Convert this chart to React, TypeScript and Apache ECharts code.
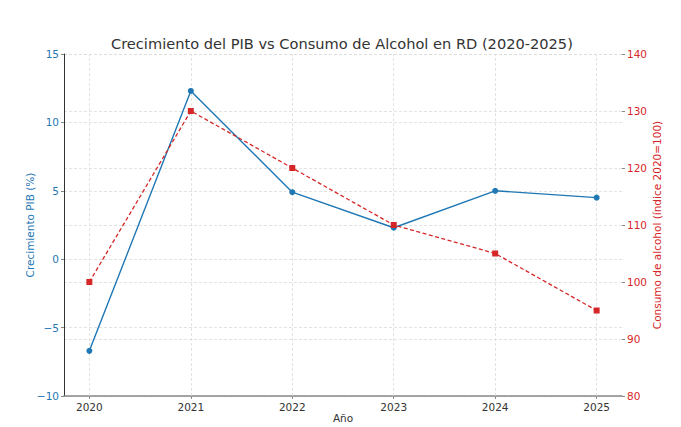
import React, { useEffect, useRef } from "react";
import * as echarts from "echarts";

const years = [2020, 2021, 2022, 2023, 2024, 2025];
const pibGrowth = [-6.7, 12.3, 4.9, 2.3, 5.0, 4.5];
const alcoholIndex = [100, 130, 120, 110, 105, 95];
const leftTicks = { min: -10, max: 15, interval: 5 };
const rightTicks = { min: 80, max: 140, interval: 10 };

const BLUE = "#1f77b4";
const RED = "#d62728";
const FONT = "DejaVu Sans";

export default function App() {
  const ref = useRef<HTMLDivElement>(null);
  useEffect(() => {
    document.body.style.margin = "0";
    const chart = echarts.init(ref.current!, null, { renderer: "svg" });
    const gridStyle = { color: "#dcdcdc", type: [3, 2], width: 0.8 };
    const gridLine = { show: true, lineStyle: gridStyle };
    chart.setOption({
      animation: false,
      backgroundColor: "#ffffff",
      title: {
        text: "Crecimiento del PIB vs Consumo de Alcohol en RD (2020-2025)",
        left: 106,
        top: 31,
        textStyle: { fontFamily: FONT, fontSize: 14.6, fontWeight: "normal", color: "#333333" },
      },
      grid: { left: 64, right: 59, top: 54, bottom: 31, containLabel: false, outerBoundsMode: "none" },
      xAxis: {
        type: "value",
        min: 2019.75,
        max: 2025.25,
        name: "Año",
        nameLocation: "middle",
        nameGap: 16,
        nameMoveOverlap: false,
        nameTextStyle: { fontFamily: FONT, fontSize: 10.5, color: "#333333" },
        axisLine: { show: true, onZero: false, lineStyle: { color: "#888888", width: 1.5 } },
        axisTick: { show: true, customValues: years, length: 3, lineStyle: { color: "#888888" } },
        axisLabel: {
          customValues: years,
          fontFamily: FONT,
          fontSize: 10.5,
          color: "#333333",
          margin: 5,
          formatter: (v: number) => String(Math.round(v)),
        },
        splitLine: { show: false },
      },
      yAxis: [
        {
          type: "value",
          position: "left",
          min: leftTicks.min,
          max: leftTicks.max,
          interval: leftTicks.interval,
          name: "Crecimiento PIB (%)",
          nameLocation: "middle",
          nameGap: 29,
          nameMoveOverlap: false,
          nameTextStyle: { fontFamily: FONT, fontSize: 10.5, color: BLUE },
          axisLine: { show: true, onZero: false, lineStyle: { color: "#333333", width: 1 } },
          axisTick: { show: true, length: 3, lineStyle: { color: "#888888" } },
          axisLabel: {
            fontFamily: FONT,
            fontSize: 10.5,
            color: BLUE,
            margin: 5,
            formatter: (v: number) => (v < 0 ? "\u2212" + Math.abs(v) : String(v)),
          },
          splitLine: gridLine,
        },
        {
          type: "value",
          position: "right",
          min: rightTicks.min,
          max: rightTicks.max,
          interval: rightTicks.interval,
          name: "Consumo de alcohol (índice 2020=100)",
          nameLocation: "middle",
          nameGap: 29,
          nameMoveOverlap: false,
          nameTextStyle: { fontFamily: FONT, fontSize: 10.5, color: RED },
          axisLine: { show: false, onZero: false },
          axisTick: { show: true, length: 3, lineStyle: { color: "#888888" } },
          axisLabel: { fontFamily: FONT, fontSize: 10.5, color: RED, margin: 5 },
          splitLine: gridLine,
        },
      ],
      series: [
        {
          type: "line",
          yAxisIndex: 0,
          data: years.map((y, i) => [y, pibGrowth[i]]),
          symbol: "circle",
          symbolSize: 6,
          lineStyle: { color: BLUE, width: 1.4 },
          itemStyle: { color: BLUE },
          z: 3,
          markLine: {
            silent: true,
            symbol: "none",
            label: { show: false },
            lineStyle: gridStyle,
            emphasis: { disabled: true },
            data: years.map((y) => ({ xAxis: y })),
            z: 1,
          },
        },
        {
          type: "line",
          yAxisIndex: 1,
          data: years.map((y, i) => [y, alcoholIndex[i]]),
          symbol: "rect",
          symbolSize: 6,
          lineStyle: { color: RED, width: 1.3, type: [4, 2.5] },
          itemStyle: { color: RED },
          z: 4,
        },
      ],
    });
    return () => chart.dispose();
  }, []);
  return <div ref={ref} style={{ width: 681, height: 427 }} />;
}
